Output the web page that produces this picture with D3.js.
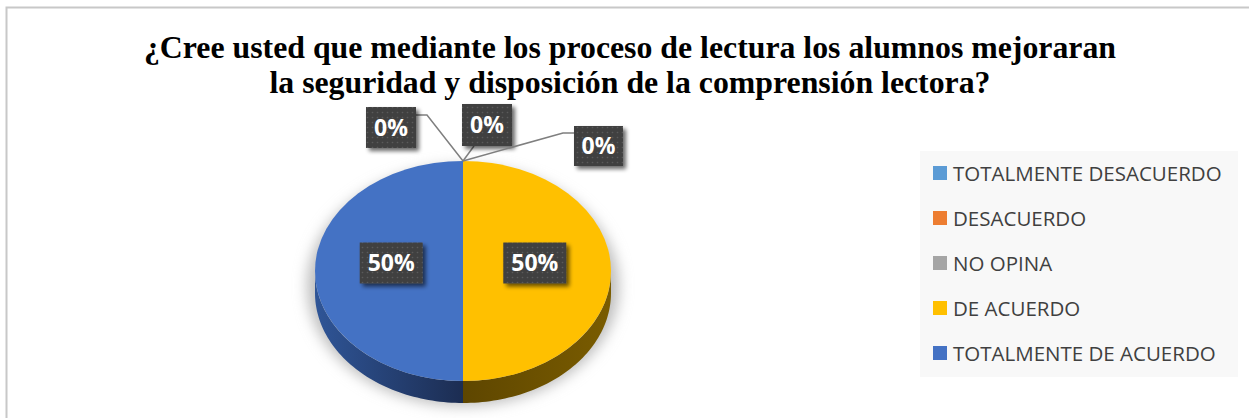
<!DOCTYPE html>
<html>
<head>
<meta charset="utf-8">
<script src="https://cdn.jsdelivr.net/npm/d3@7"></script>
<style>
  html, body { margin: 0; padding: 0; background: #fff; }
  svg { display: block; }
</style>
</head>
<body>
<svg width="1249" height="418"></svg>
<script>
const categories = ["TOTALMENTE DESACUERDO", "DESACUERDO", "NO OPINA", "DE ACUERDO", "TOTALMENTE DE ACUERDO"];
const values = [0, 0, 0, 50, 50];
const colors = ["#5B9BD5", "#ED7D31", "#A5A5A5", "#FFC000", "#4472C4"];
const sideColors = [["#3a6f9e", "#1e3d5a"], ["#a9551f", "#6b3310"], ["#777", "#444"], ["#7a5c00", "#5e4600"], ["#2f5597", "#1c2d52"]];
const titleLines = [
  "¿Cree usted que mediante los proceso de lectura los alumnos mejoraran",
  "la seguridad y disposición de la comprensión lectora?"
];

let svg = d3.select("svg"),
	width = +svg.attr("width"),
	height = +svg.attr("height");

let defs = svg.append("defs");

// chart frame
svg.append("rect")
	.attr("x", 6.5).attr("y", 7.5)
	.attr("width", width + 10).attr("height", height + 10)
	.attr("fill", "#fff")
	.attr("stroke", "#c8c8c8")
	.attr("stroke-width", 2);

// title
svg.append("g").selectAll("text")
	.data(titleLines)
	.enter().append("text")
	.attr("x", 630)
	.attr("y", (d, i) => 58 + i * 35)
	.attr("text-anchor", "middle")
	.style("font-family", "'Liberation Serif', 'Times New Roman', serif")
	.style("font-weight", "bold")
	.style("font-size", "31.8px")
	.attr("fill", "#000")
	.text(d => d);

// pie geometry
const cx = 463, cy = 271, rx = 148, ry = 110, depth = 22;
const pie = d3.pie().sort(null).value(d => d.value);
const arcs = pie(categories.map((c, i) => ({ name: c, value: values[i], i: i })));
const arc = d3.arc().innerRadius(0).outerRadius(rx);

// blur filters
let blur = defs.append("filter").attr("id", "pieShadow")
	.attr("x", "-30%").attr("y", "-30%").attr("width", "160%").attr("height", "160%");
blur.append("feGaussianBlur").attr("stdDeviation", 7);

let boxShadow = defs.append("filter").attr("id", "boxShadow")
	.attr("x", "-30%").attr("y", "-30%").attr("width", "160%").attr("height", "160%");
boxShadow.append("feGaussianBlur").attr("in", "SourceAlpha").attr("stdDeviation", 2).attr("result", "b");
boxShadow.append("feOffset").attr("in", "b").attr("dx", 3).attr("dy", 3).attr("result", "o");
boxShadow.append("feComponentTransfer").attr("in", "o").attr("result", "s")
	.append("feFuncA").attr("type", "linear").attr("slope", 0.6);
let merge = boxShadow.append("feMerge");
merge.append("feMergeNode").attr("in", "s");
merge.append("feMergeNode").attr("in", "SourceGraphic");

// dotted label pattern
let pat = defs.append("pattern").attr("id", "dots")
	.attr("width", 5).attr("height", 5).attr("patternUnits", "userSpaceOnUse");
pat.append("rect").attr("width", 5).attr("height", 5).attr("fill", "#404040");
pat.append("circle").attr("cx", 2.5).attr("cy", 2.5).attr("r", 0.8).attr("fill", "#5a5a5a");

// side gradients
sideColors.forEach((c, i) => {
	let g = defs.append("linearGradient").attr("id", "side" + i)
		.attr("gradientUnits", "userSpaceOnUse")
		.attr("x1", cx - rx).attr("x2", cx + rx).attr("y1", 0).attr("y2", 0);
	if (i === 4) {
		g.append("stop").attr("offset", "0%").attr("stop-color", c[0]);
		g.append("stop").attr("offset", "50%").attr("stop-color", c[1]);
	} else {
		g.append("stop").attr("offset", "50%").attr("stop-color", c[1]);
		g.append("stop").attr("offset", "100%").attr("stop-color", c[0]);
	}
});

let pieG = svg.append("g");

// soft shadow beneath
pieG.append("ellipse")
	.attr("cx", cx).attr("cy", cy + depth / 2 + 4)
	.attr("rx", rx + 8).attr("ry", ry + 10)
	.attr("fill", "#bdbdbd")
	.attr("filter", "url(#pieShadow)");

// side walls (front half: angles from PI/2 to 3PI/2)
function ellPt(a, dy) {
	return [cx + rx * Math.sin(a), cy - ry * Math.cos(a) + dy];
}
arcs.forEach(d => {
	let a0 = Math.max(d.startAngle, Math.PI / 2), a1 = Math.min(d.endAngle, 3 * Math.PI / 2);
	if (a1 <= a0) return;
	let n = 60, pts = [];
	for (let k = 0; k <= n; k++) pts.push(ellPt(a0 + (a1 - a0) * k / n, 0));
	for (let k = n; k >= 0; k--) pts.push(ellPt(a0 + (a1 - a0) * k / n, depth));
	pieG.append("path")
		.attr("d", d3.line()(pts) + "Z")
		.attr("fill", "url(#side" + d.data.i + ")");
});

// top face
pieG.append("g")
	.attr("transform", `translate(${cx},${cy}) scale(1,${ry / rx})`)
	.selectAll("path")
	.data(arcs.filter(d => d.value > 0))
	.enter().append("path")
	.attr("d", arc)
	.attr("fill", d => colors[d.data.i]);

// labels
function labelBox(g, x, y, w, h, txt) {
	g.append("rect")
		.attr("x", x).attr("y", y).attr("width", w).attr("height", h)
		.attr("fill", "url(#dots)")
		.attr("filter", "url(#boxShadow)");
	g.append("text")
		.attr("x", x + w / 2).attr("y", y + h / 2 + 8)
		.attr("text-anchor", "middle")
		.style("font-family", "'Open Sans', 'Noto Sans', sans-serif")
		.style("font-weight", "bold")
		.style("font-size", "23px")
		.attr("fill", "#fff")
		.text(txt);
}

let labG = svg.append("g");
const fmt = d => Math.round(d.value / d3.sum(values) * 100) + "%";

// zero-value labels pulled out to the top with leader lines
const topPt = ellPt(0, 0);
const zeroOffsets = [[-97, -54, 50, 41], [-1, -57, 50, 42], [111, -35, 49, 40]];
const leaderBend = [[[-36, -46], [-47, -46]], [[11, -15]], [[100, -28], [111, -28]]];
arcs.filter(d => d.value === 0).forEach((d, k) => {
	let o = zeroOffsets[k];
	let pts = [topPt].concat(leaderBend[k].map(p => [topPt[0] + p[0], topPt[1] + p[1]]));
	labG.append("path")
		.attr("d", d3.line()(pts))
		.attr("fill", "none")
		.attr("stroke", "#7f7f7f")
		.attr("stroke-width", 1.5);
	labelBox(labG, topPt[0] + o[0], topPt[1] + o[1], o[2], o[3], fmt(d));
});

arcs.filter(d => d.value > 0).forEach(d => {
	let c = d3.arc().innerRadius(0).outerRadius(rx * 0.97).centroid(d);
	let x = cx + c[0], y = cy + c[1] * ry / rx - 8;
	labelBox(labG, x - 31.5, y - 20.5, 63, 41, fmt(d));
});

// legend
let leg = svg.append("g");
leg.append("rect")
	.attr("x", 920).attr("y", 151).attr("width", 318).attr("height", 226)
	.attr("fill", "#f8f8f8");
let y = d3.scalePoint().domain(categories).range([173, 353]);
let item = leg.selectAll("g.item")
	.data(categories)
	.enter().append("g").attr("class", "item");
item.append("rect")
	.attr("x", 933).attr("y", d => y(d) - 7)
	.attr("width", 14).attr("height", 14)
	.attr("fill", (d, i) => colors[i]);
item.append("text")
	.attr("x", 953).attr("y", d => y(d) + 7.5)
	.style("font-family", "'Open Sans', 'Noto Sans', sans-serif")
	.style("font-size", "20.5px")
	.attr("fill", "#404040")
	.text(d => d);
</script>
</body>
</html>
